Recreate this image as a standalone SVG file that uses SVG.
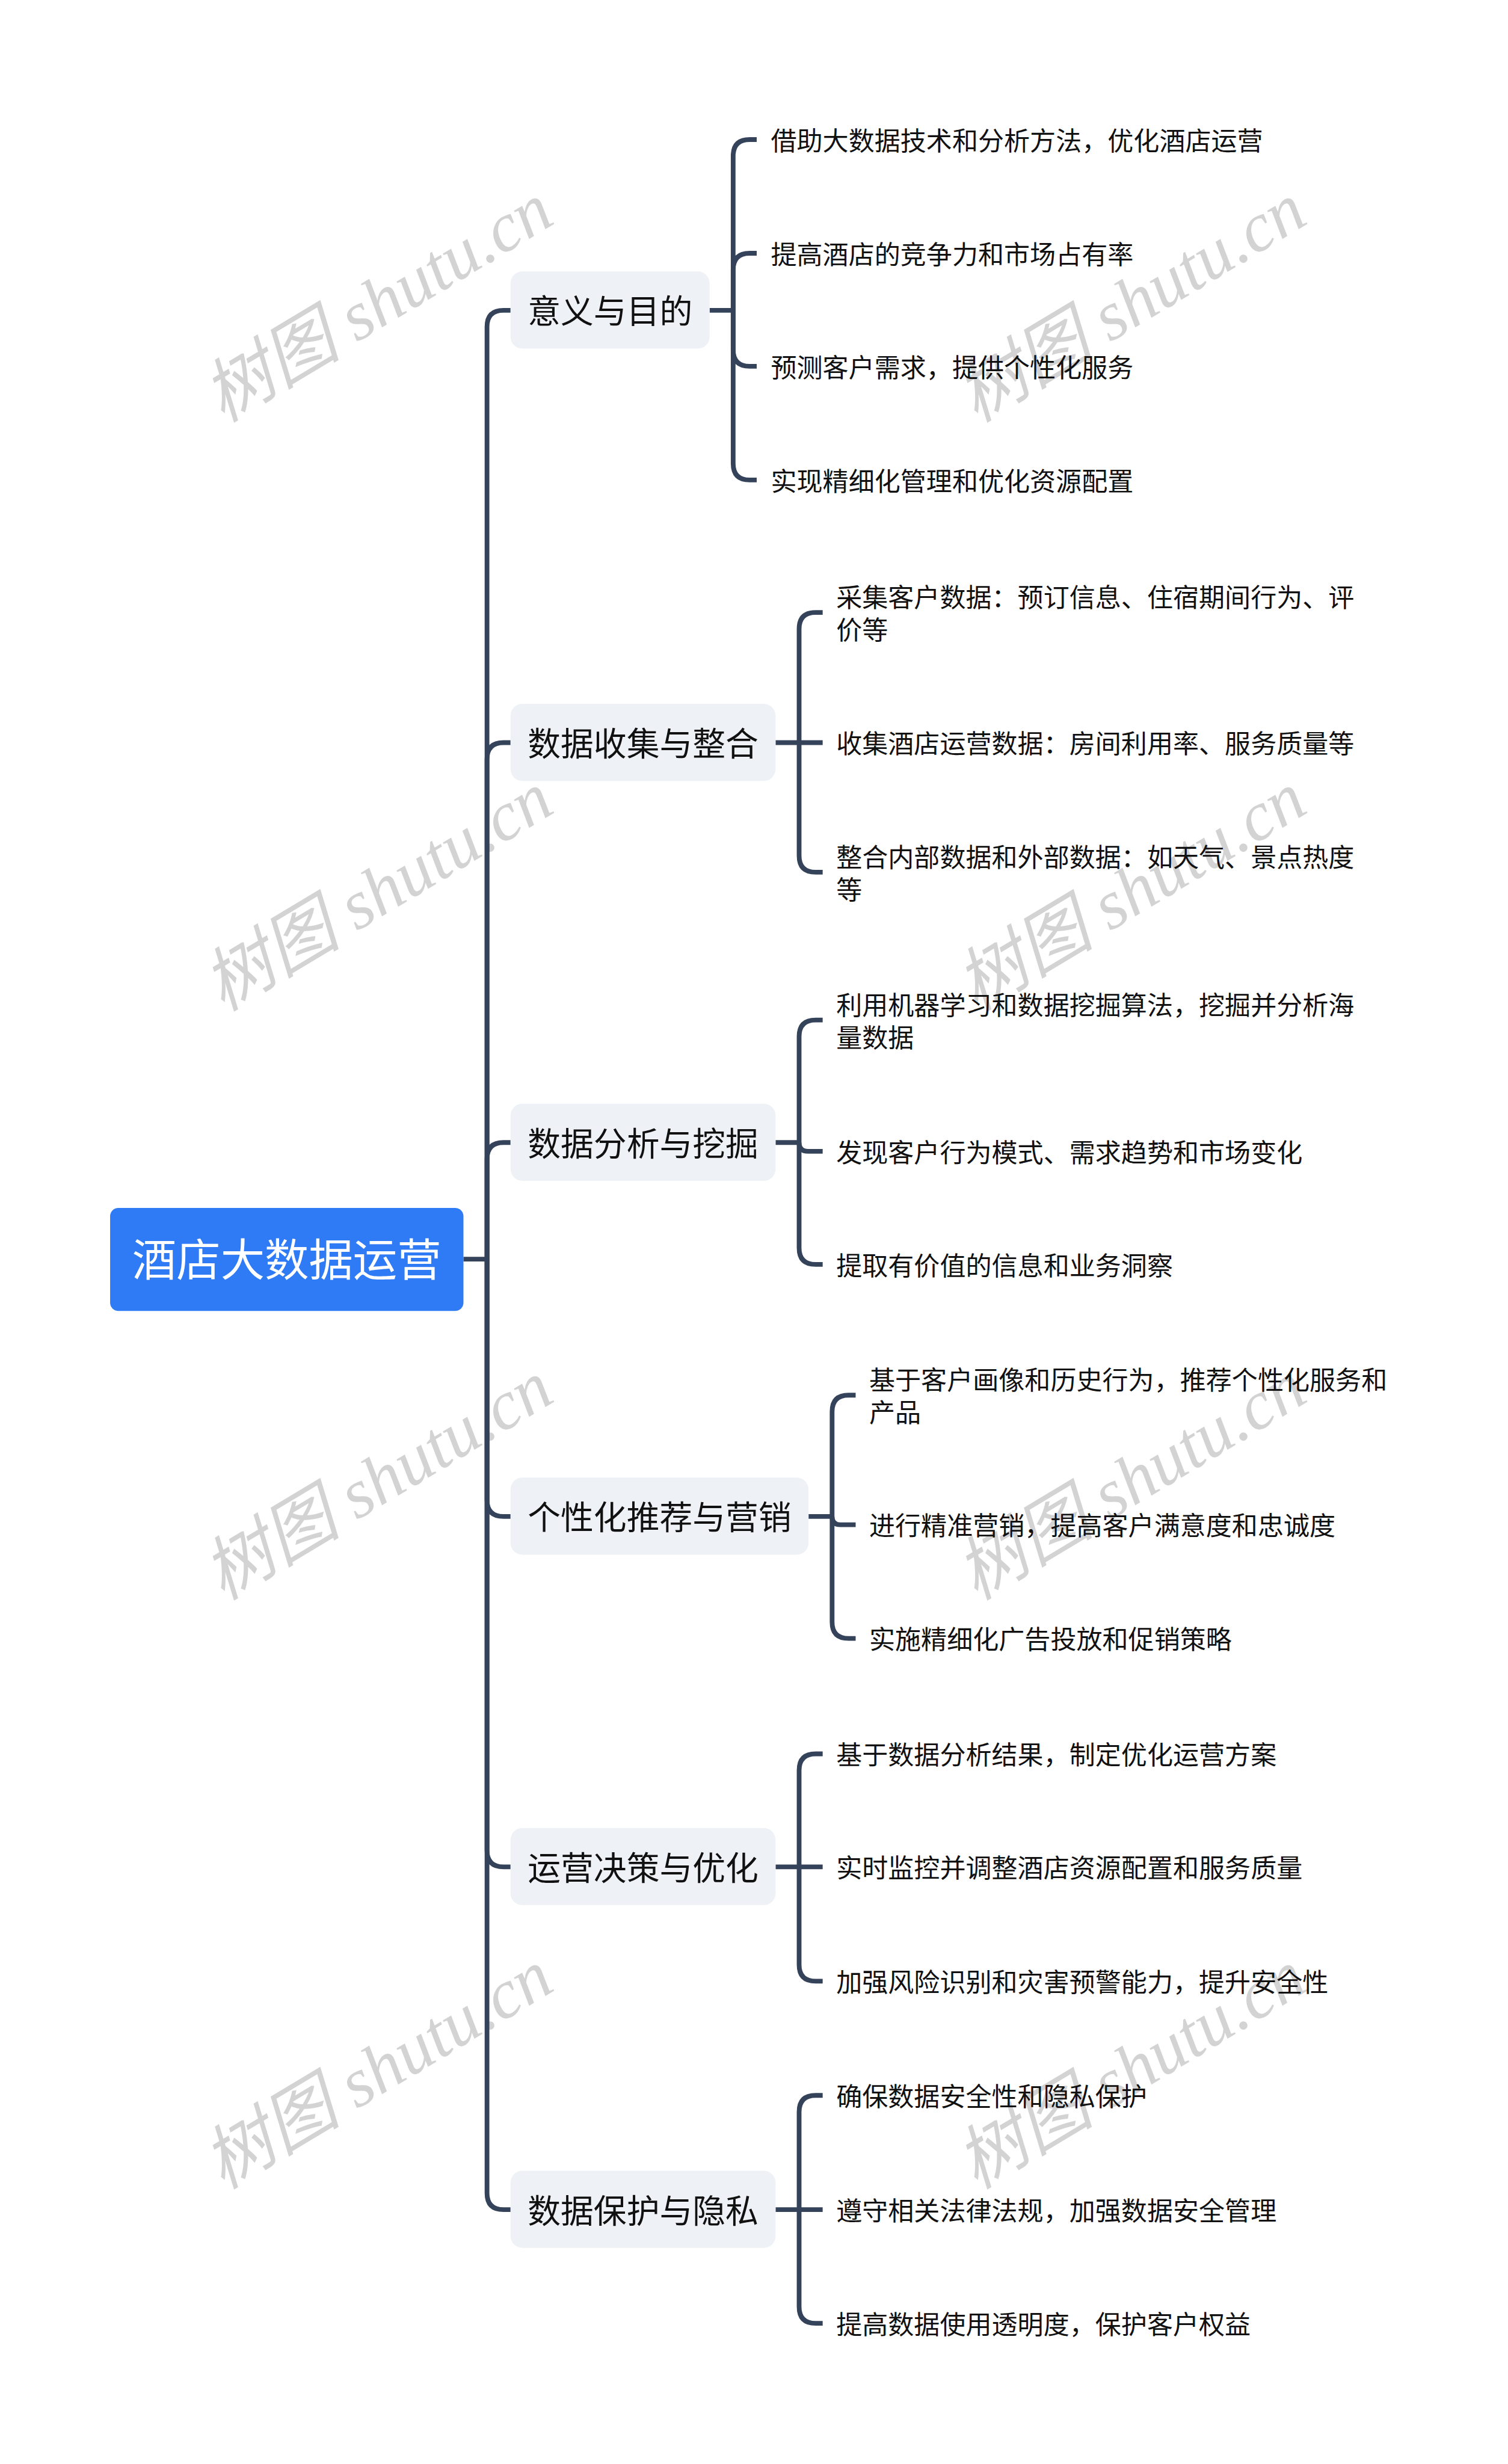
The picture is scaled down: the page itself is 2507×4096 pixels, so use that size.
<svg xmlns="http://www.w3.org/2000/svg" width="2507" height="4096" viewBox="0 0 2507 4096">
<style>
.wm{font-family:"Liberation Serif","Noto Sans CJK SC",serif;font-style:italic;font-size:118px;fill:#d3d3d3;text-anchor:middle}
.ln{fill:none;stroke:#34435a;stroke-width:8}
.l1b{fill:#eef1f5}
.l1t{font-family:"Noto Sans CJK SC","Noto Sans CJK JP",sans-serif;font-size:56px;fill:#111;text-anchor:middle}
.l2t{font-family:"Noto Sans CJK SC","Noto Sans CJK JP",sans-serif;font-size:44px;fill:#111}
.rt{font-family:"Noto Sans CJK SC","Noto Sans CJK JP",sans-serif;font-size:75px;fill:#fff;text-anchor:middle}
</style>
<rect width="2507" height="4096" fill="#fff"/>
<g transform="scale(0.979)">
<g id="watermarks">
<text class="wm" x="662" y="548" transform="rotate(-31 662 548)">树图 shutu.cn</text>
<text class="wm" x="1941" y="548" transform="rotate(-31 1941 548)">树图 shutu.cn</text>
<text class="wm" x="662" y="1548" transform="rotate(-31 662 1548)">树图 shutu.cn</text>
<text class="wm" x="1941" y="1548" transform="rotate(-31 1941 1548)">树图 shutu.cn</text>
<text class="wm" x="662" y="2548" transform="rotate(-31 662 2548)">树图 shutu.cn</text>
<text class="wm" x="1941" y="2548" transform="rotate(-31 1941 2548)">树图 shutu.cn</text>
<text class="wm" x="662" y="3548" transform="rotate(-31 662 3548)">树图 shutu.cn</text>
<text class="wm" x="1941" y="3548" transform="rotate(-31 1941 3548)">树图 shutu.cn</text>
</g>
<g id="connectors">
<path class="ln" d="M787 2138 H827"/>
<path class="ln" d="M827 2138 V555 Q827 527 855 527 H867"/>
<path class="ln" d="M827 2138 V1289 Q827 1261 855 1261 H867"/>
<path class="ln" d="M827 2138 V1968 Q827 1940 855 1940 H867"/>
<path class="ln" d="M827 2138 V2547 Q827 2575 855 2575 H867"/>
<path class="ln" d="M827 2138 V3142 Q827 3170 855 3170 H867"/>
<path class="ln" d="M827 2138 V3724 Q827 3752 855 3752 H867"/>
<path class="ln" d="M1205 527 H1245"/>
<path class="ln" d="M1245 527 V265 Q1245 237 1273 237 H1285"/>
<path class="ln" d="M1245 527 V458 Q1245 430 1273 430 H1285"/>
<path class="ln" d="M1245 527 V594 Q1245 622 1273 622 H1285"/>
<path class="ln" d="M1245 527 V787 Q1245 815 1273 815 H1285"/>
<path class="ln" d="M1317 1261 H1397"/>
<path class="ln" d="M1357 1261 V1068 Q1357 1040 1385 1040 H1397"/>
<path class="ln" d="M1357 1261 V1453 Q1357 1481 1385 1481 H1397"/>
<path class="ln" d="M1317 1940 H1357"/>
<path class="ln" d="M1357 1940 V1760 Q1357 1732 1385 1732 H1397"/>
<path class="ln" d="M1357 1940 Q1357 1955 1372 1955 H1397"/>
<path class="ln" d="M1357 1940 V2119 Q1357 2147 1385 2147 H1397"/>
<path class="ln" d="M1373 2575 H1413"/>
<path class="ln" d="M1413 2575 V2397 Q1413 2369 1441 2369 H1453"/>
<path class="ln" d="M1413 2575 Q1413 2589 1427 2589 H1453"/>
<path class="ln" d="M1413 2575 V2754 Q1413 2782 1441 2782 H1453"/>
<path class="ln" d="M1317 3170 H1397"/>
<path class="ln" d="M1357 3170 V3006 Q1357 2978 1385 2978 H1397"/>
<path class="ln" d="M1357 3170 V3336 Q1357 3364 1385 3364 H1397"/>
<path class="ln" d="M1317 3752 H1397"/>
<path class="ln" d="M1357 3752 V3586 Q1357 3558 1385 3558 H1397"/>
<path class="ln" d="M1357 3752 V3917 Q1357 3945 1385 3945 H1397"/>
</g>
<g id="root">
<rect x="187" y="2051" width="600" height="175" rx="14" fill="#2f7bf5"/>
<text class="rt" x="487" y="2166">酒店大数据运营</text>
</g>
<g id="n1">
<rect class="l1b" x="867" y="461" width="338" height="131" rx="20"/>
<text class="l1t" x="1036" y="549">意义与目的</text>
</g>
<g id="n1c1"><text class="l2t" x="1309" y="255">借助大数据技术和分析方法，优化酒店运营</text></g>
<g id="n1c2"><text class="l2t" x="1309" y="448">提高酒店的竞争力和市场占有率</text></g>
<g id="n1c3"><text class="l2t" x="1309" y="640">预测客户需求，提供个性化服务</text></g>
<g id="n1c4"><text class="l2t" x="1309" y="833">实现精细化管理和优化资源配置</text></g>
<g id="n2">
<rect class="l1b" x="867" y="1195" width="450" height="131" rx="20"/>
<text class="l1t" x="1092" y="1283">数据收集与整合</text>
</g>
<g id="n2c1"><text class="l2t" x="1420" y="1031">采集客户数据：预订信息、住宿期间行为、评<tspan x="1420" dy="55">价等</tspan></text></g>
<g id="n2c2"><text class="l2t" x="1420" y="1279">收集酒店运营数据：房间利用率、服务质量等</text></g>
<g id="n2c3"><text class="l2t" x="1420" y="1472">整合内部数据和外部数据：如天气、景点热度<tspan x="1420" dy="55">等</tspan></text></g>
<g id="n3">
<rect class="l1b" x="867" y="1874" width="450" height="131" rx="20"/>
<text class="l1t" x="1092" y="1962">数据分析与挖掘</text>
</g>
<g id="n3c1"><text class="l2t" x="1420" y="1723">利用机器学习和数据挖掘算法，挖掘并分析海<tspan x="1420" dy="55">量数据</tspan></text></g>
<g id="n3c2"><text class="l2t" x="1420" y="1973">发现客户行为模式、需求趋势和市场变化</text></g>
<g id="n3c3"><text class="l2t" x="1420" y="2165">提取有价值的信息和业务洞察</text></g>
<g id="n4">
<rect class="l1b" x="867" y="2509" width="506" height="131" rx="20"/>
<text class="l1t" x="1120" y="2597">个性化推荐与营销</text>
</g>
<g id="n4c1"><text class="l2t" x="1476" y="2360">基于客户画像和历史行为，推荐个性化服务和<tspan x="1476" dy="55">产品</tspan></text></g>
<g id="n4c2"><text class="l2t" x="1476" y="2607">进行精准营销，提高客户满意度和忠诚度</text></g>
<g id="n4c3"><text class="l2t" x="1476" y="2800">实施精细化广告投放和促销策略</text></g>
<g id="n5">
<rect class="l1b" x="867" y="3104" width="450" height="131" rx="20"/>
<text class="l1t" x="1092" y="3192">运营决策与优化</text>
</g>
<g id="n5c1"><text class="l2t" x="1420" y="2996">基于数据分析结果，制定优化运营方案</text></g>
<g id="n5c2"><text class="l2t" x="1420" y="3188">实时监控并调整酒店资源配置和服务质量</text></g>
<g id="n5c3"><text class="l2t" x="1420" y="3382">加强风险识别和灾害预警能力，提升安全性</text></g>
<g id="n6">
<rect class="l1b" x="867" y="3686" width="450" height="131" rx="20"/>
<text class="l1t" x="1092" y="3774">数据保护与隐私</text>
</g>
<g id="n6c1"><text class="l2t" x="1420" y="3576">确保数据安全性和隐私保护</text></g>
<g id="n6c2"><text class="l2t" x="1420" y="3770">遵守相关法律法规，加强数据安全管理</text></g>
<g id="n6c3"><text class="l2t" x="1420" y="3963">提高数据使用透明度，保护客户权益</text></g>
</g>
</svg>
